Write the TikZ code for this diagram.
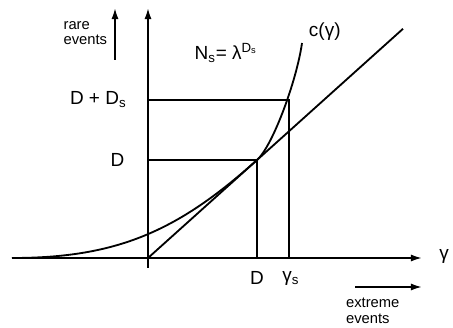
\documentclass[tikz,border=0pt]{standalone}
\usepackage{fontspec}
\setmainfont{Liberation Sans}
\usetikzlibrary{arrows.meta}
\begin{document}
\begin{tikzpicture}[line width=1.3pt,
  axis/.style={-{Latex[length=2.8mm,width=1.8mm]}},
  big/.style={font=\fontsize{13.5}{14}\selectfont},
  small/.style={font=\fontsize{10.5}{11}\selectfont, align=left, inner sep=0pt}]
\useasboundingbox (-3.7,-1.725) rectangle (7.625,6.45);
% Axes
\draw[axis] (0,-0.25) -- (0,6.25);
\draw[axis] (-3.4,0) -- (6.85,0);
\node[big] (gam) at (7.4,0.03) {γ};
% Hint arrows
\coordinate (rareS) at (-0.825,4.95);
\coordinate (rareE) at (-0.825,6.25);
\draw[axis] (rareS) -- (rareE);
\node[small, anchor=east] (rare) at (-1.0,5.62) {rare\\events};
\coordinate (extS) at (5.175,-0.725);
\coordinate (extE) at (6.85,-0.725);
\draw[axis] (extS) -- (extE);
\node[small, anchor=north west] (ext) at (4.93,-0.98) {extreme\\events};
% Levels
\coordinate (o) at (0,0);
\coordinate (pD) at (2.725,2.45);
\coordinate (pS) at (3.525,3.95);
\node[big, anchor=east] (lD) at (-0.45,2.45) {D};
\node[big, anchor=east] (lDS) at (-0.4,3.95) {D + D\textsubscript{s}};
\node[big] (xD) at (2.725,-0.5) {D};
\node[big] (xS) at (3.57,-0.5) {γ\textsubscript{s}};
\draw (0,2.45) -| (pD) -- (2.725,0);
\draw (0,3.95) -| (pS) -- (3.525,0);
% Straight line
\draw (o) -- (6.375,5.73);
% Curve c(gamma)
\draw (-3.4,0) .. controls (-0.8,0) and (0.725,0.65) .. (pD)
  .. controls (3.125,2.81) and (3.72,4.45) .. (3.85,5.375);
\node[big] (cg) at (4.42,5.65) {c(γ)};
\node[big] (ns) at (1.95,5.13) {N\textsubscript{s}= λ\textsuperscript{D\textsubscript{s}}};
\end{tikzpicture}
\end{document}
